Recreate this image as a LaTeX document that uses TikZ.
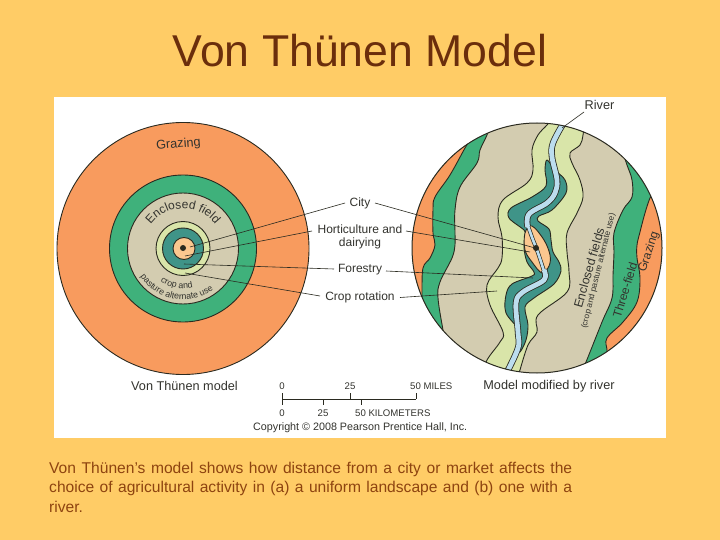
\documentclass[tikz,border=0pt]{standalone}
\usepackage{fontspec}
\setmainfont{Liberation Sans}
\usetikzlibrary{decorations.text}
\definecolor{bgc}{HTML}{FFCC66}
\definecolor{titlec}{HTML}{6B2E0C}
\definecolor{capc}{HTML}{8E4410}
\definecolor{ink}{HTML}{2A2A20}
\definecolor{txt}{HTML}{33332E}
\definecolor{orng}{HTML}{F89B5E}
\definecolor{grn}{HTML}{3FB17B}
\definecolor{bge}{HTML}{D3CCB0}
\definecolor{lgr}{HTML}{D9E5A9}
\definecolor{teal2}{HTML}{3F9488}
\definecolor{peach}{HTML}{FBC78F}
\definecolor{rvr}{HTML}{BCDDEE}
\tikzset{
  x=1pt,y=-1pt,
  zone/.style={draw=ink,line width=0.9pt,line join=round},
  lead/.style={draw=ink,line width=0.6pt},
  small/.style={font=\fontsize{12}{13}\selectfont,text=txt,inner sep=0pt},
  big/.style={font=\fontsize{12.7}{14}\selectfont,text=txt,inner sep=0pt},
  tiny2/.style={font=\fontsize{9.6}{11}\selectfont,text=txt,inner sep=0pt},
  sm/.style={smooth,tension=0.6},
}
\begin{document}
\begin{tikzpicture}
\useasboundingbox (0,0) rectangle (720,540);
\fill[bgc] (0,0) rectangle (720,540);
\fill[white] (54,97) rectangle (666,438);
\node[font=\fontsize{44.6}{48}\selectfont,text=titlec,inner sep=0pt] (title) at (360,51) {Von Thünen Model};
% left circle
\coordinate (L) at (183,248.5);
\path[zone,fill=orng] (L) circle[radius=126pt];
\path[zone,fill=grn] (L) circle[radius=73.5pt];
\path[zone,fill=bge] (L) circle[radius=55.5pt];
\path[zone,fill=lgr] (L) circle[radius=27pt];
\path[zone,fill=teal2] (L) circle[radius=20.5pt];
\path[zone,fill=peach] (184,248.5) circle[radius=11pt];
\fill[ink] (183,248) circle[radius=3pt];
\node[big,rotate=5] (graz) at (178.5,144.5) {Grazing};
\path[decorate,decoration={text along path,text align=center,text={|\fontsize{12}{13}\selectfont\color{txt}|Enclosed field}}]
  (L) ++(150:40pt) arc[start angle=150,end angle=30,radius=40pt];
\path[decorate,decoration={text along path,text align=center,text={|\fontsize{8.8}{10}\selectfont\color{txt}|crop and}}]
  (L) ++(225:40pt) arc[start angle=225,end angle=295,radius=40pt];
\path[decorate,decoration={text along path,text align=center,text={|\fontsize{8.8}{10}\selectfont\color{txt}|pasture alternate use}}]
  (L) ++(205:51pt) arc[start angle=205,end angle=315,radius=51pt];
% right circle
\coordinate (R) at (537,248);
\begin{scope}
\clip (R) circle[radius=125pt];
\fill[bge] (R) circle[radius=125pt];
\path[zone,fill=grn] plot[sm] coordinates {(490,125)(487,135)(480,150)(477,163)(460,187)(455,210)(455,233)(455,245)(452,258)(440,282)(438,298)(443,330)(446,345)} -- (400,345) -- (400,125) -- cycle;
\path[zone,fill=orng] plot[sm] coordinates {(470,140)(465,148)(450,175)(435,197)(433,210)(433,233)(435,245)(430,258)(423,268)(422,292)(422,305)} -- (400,305) -- (400,140) -- cycle;
\path[zone,fill=grn] plot[sm] coordinates {(622,150)(627,165)(632,180)(632,197)(623,210)(614,233)(614,252)(613,275)(612,298)(602,322)(586,362)(580,375)} -- (680,375) -- (680,150) -- cycle;
\path[zone,fill=orng] plot[sm] coordinates {(655,190)(650,198)(645,213)(640,232)(637,245)(637,258)(640,278)(637,302)(623,322)(607,338)(607,350)(607,360)} -- (680,360) -- (680,190) -- cycle;
\path[zone,fill=lgr] plot[sm] coordinates {(552,118)(547,125)(538,135)(532,150)(533,170)(527,183)(503,200)(498,217)(502,237)(502,258)(498,268)(487,285)(490,305)(503,332)(500,342)(487,360)(480,378)}
  -- (515,380) -- plot[sm] coordinates {(520,370)(528,345)(537,332)(538,315)(567,292)(569,272)(567,252)(567,233)(577,213)(583,197)(580,180)(572,163)(570,153)(580,145)(583,135)(585,118)} -- cycle;
\path[zone,fill=teal2] plot[smooth cycle,tension=0.55] coordinates {(547,160)(555,170)(565,180)(566,193)(552,210)(539,216)(538,221)(549,229)(551,240)(553,252)(559,262)(561,271)(554,284)(534,298)(525,307)(528,325)(526,340)(520,352)(517,348)(520,332)(506,313)(506,295)(512,284)(532,276)(534,272)(527,262)(524,248)(525,235)(524,230)(509,218)(511,208)(532,197)(546,186)(545,170)};
\path[zone,fill=peach] plot[smooth cycle,tension=0.6] coordinates {(532,226)(525,233)(525,250)(532,262)(542,273)(549,266)(550,255)(544,240)};
% river: wide above and below the city, narrow through it
\draw[ink,line width=6.4pt,line join=round] plot[sm] coordinates {(563,124)(553,143)(552,157)(557,180)(555,193)(547,203)(530,213)(527,222)(528,227)};
\draw[ink,line width=6.4pt,line join=round] plot[sm] coordinates {(544,270)(544,280)(523,292)(516,303)(518,332)(518,348)(506,374)};
\draw[ink,line width=4pt,line join=round] plot[sm] coordinates {(528,226)(533,240)(537,250)(544,271)};
\draw[rvr,line width=4.8pt,line join=round] plot[sm] coordinates {(563,124)(553,143)(552,157)(557,180)(555,193)(547,203)(530,213)(527,222)(528,227)};
\draw[rvr,line width=4.8pt,line join=round] plot[sm] coordinates {(544,270)(544,280)(523,292)(516,303)(518,332)(518,348)(506,374)};
\draw[rvr,line width=2.6pt,line join=round] plot[sm] coordinates {(528,226)(533,240)(537,250)(544,271)};
\end{scope}
\draw[ink,line width=1pt] (R) circle[radius=125pt];
\fill[ink] (536,248) circle[radius=3pt];
% labels
\node[big] (river) at (599.5,105) {River};
\node[small] (city) at (360,203) {City};
\node[small,align=center] (hort) at (360,236.5) {Horticulture and\\dairying};
\node[small] (forest) at (360,270) {Forestry};
\node[small] (crop) at (360,297) {Crop rotation};
\node[big] (m1) at (184.5,386) {Von Thünen model};
\node[big] (m2) at (549,386) {Model modified by river};
\node[big,rotate=74,font=\fontsize{12.3}{13}\selectfont] (ef) at (589,268) {Enclosed fields};
\node[tiny2,rotate=76,font=\fontsize{8.3}{9}\selectfont] (cp) at (598.5,271) {(crop and pasture alternate use)};
\node[big,rotate=73,font=\fontsize{12}{13}\selectfont] (tf) at (625,290) {Three-field};
\node[big,rotate=72,font=\fontsize{12}{13}\selectfont] (gz) at (649,252) {Grazing};
% leader ends
\coordinate (a1) at (190,247);
\coordinate (a2) at (185,256);
\coordinate (a3) at (184,264);
\coordinate (a4) at (185,273);
\coordinate (b0) at (562,128);
\coordinate (b1) at (535,248);
\coordinate (b2) at (530,252);
\coordinate (b3) at (533,278);
\coordinate (b4) at (497,291);
\coordinate (c1) at (345,203);
\coordinate (c2) at (375,203);
\coordinate (h1) at (312,231);
\coordinate (h2) at (406,231);
\coordinate (f1) at (334,269);
\coordinate (f2) at (386,271);
\coordinate (r1) at (320,296);
\coordinate (r2) at (400,297.5);
\coordinate (v0) at (584,112);
\draw[lead] (v0) -- (b0);
\draw[lead] (c1) -- (a1);
\draw[lead] (c2) -- (b1);
\draw[lead] (h1) -- (a2);
\draw[lead] (h2) -- (b2);
\draw[lead] (f1) -- (a3);
\draw[lead] (f2) -- (b3);
\draw[lead] (r1) -- (a4);
\draw[lead] (r2) -- (b4);
% scale
\coordinate (s0) at (282,399);
\coordinate (s1) at (416,399);
\draw[ink,line width=0.9pt] (282,393) -- (282,405);
\draw[ink,line width=0.9pt] (s0) -- (s1);
\draw[ink,line width=0.9pt] (350,393) -- (350,399);
\draw[ink,line width=0.9pt] (416,393) -- (416,399);
\draw[ink,line width=0.9pt] (323,399) -- (323,405);
\draw[ink,line width=0.9pt] (361,399) -- (361,405);
\node[tiny2] (t0) at (282,386) {0};
\node[tiny2] (t25) at (350,386) {25};
\node[tiny2,anchor=west] (t50) at (410,386) {50 MILES};
\node[tiny2] (k0) at (282,413) {0};
\node[tiny2] (k25) at (323,413) {25};
\node[tiny2,anchor=west] (k50) at (355,413) {50 KILOMETERS};
\node[small,anchor=west,font=\fontsize{10.75}{12}\selectfont] (copy) at (253,428) {Copyright © 2008 Pearson Prentice Hall, Inc.};
% caption
\node[anchor=north west,inner sep=0pt,text width=523pt,align=justify,text=capc,font=\fontsize{15.6}{19.5}\selectfont] (cap) at (49,461.5) {Von Thünen’s model shows how distance from a city or market affects the choice of agricultural activity in (a) a uniform landscape and (b) one with a river.};
\end{tikzpicture}
\end{document}
